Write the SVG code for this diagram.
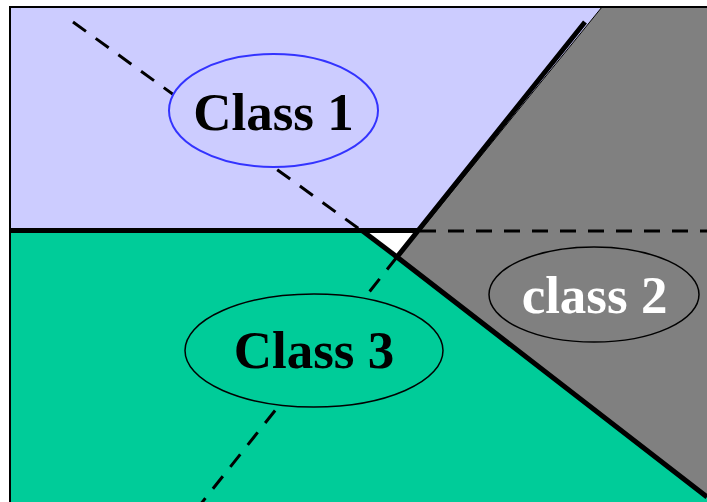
<svg xmlns="http://www.w3.org/2000/svg" width="707" height="502" viewBox="0 0 707 502">
<style>
.thick{stroke:#000;stroke-width:5;fill:none;stroke-linecap:butt}
.dash{stroke:#000;stroke-width:3;fill:none;stroke-dasharray:16,12}
.lbl{font-family:"Liberation Serif","Times New Roman",serif;font-weight:bold;font-size:53px;text-anchor:middle}
</style>
<rect width="707" height="502" fill="#fff"/>
<g id="regions">
<polygon points="10,7 602,7 420,231 10,231" fill="#ccccff"/>
<polygon points="602,7 707,7 707,497 397,257 418,231 420,231" fill="#808080"/>
<polygon points="10,231 362,231 397,257 707,497 707,502 10,502" fill="#00cc99"/>
<polygon points="362,231 418,231 397,257" fill="#fff"/>
<line x1="602" y1="7" x2="420" y2="231" stroke="#000" stroke-width="1"/>
</g>
<g id="frame">
<line x1="10" y1="7" x2="707" y2="7" stroke="#000" stroke-width="2"/>
<line x1="10" y1="6" x2="10" y2="502" stroke="#000" stroke-width="2"/>
</g>
<g id="connectors">
<line class="dash" x1="73" y1="22" x2="362" y2="231"/>
<line class="dash" x1="397" y1="257" x2="200" y2="505"/>
<line class="dash" x1="420" y1="231" x2="707" y2="231"/>
<polyline class="thick" points="10,230.5 418,230.5"/>
<polyline class="thick" points="585,22 397,257 707,497"/>
<line class="thick" x1="362" y1="230.5" x2="397" y2="257"/>
</g>
<g id="class1">
<ellipse cx="273.5" cy="110.5" rx="104.5" ry="56.5" fill="#ccccff" stroke="#3333ff" stroke-width="2"/>
<text class="lbl" x="273.5" y="130" fill="#000">Class 1</text>
</g>
<g id="class3">
<ellipse cx="314" cy="350.5" rx="129" ry="56.5" fill="#00cc99" stroke="#000" stroke-width="1.5"/>
<text class="lbl" x="314" y="368" fill="#000">Class 3</text>
</g>
<g id="class2">
<ellipse cx="594" cy="294.5" rx="105" ry="47.5" fill="#808080" stroke="#000" stroke-width="1.5"/>
<text class="lbl" x="594.5" y="313" fill="#fff">class 2</text>
</g>
</svg>
